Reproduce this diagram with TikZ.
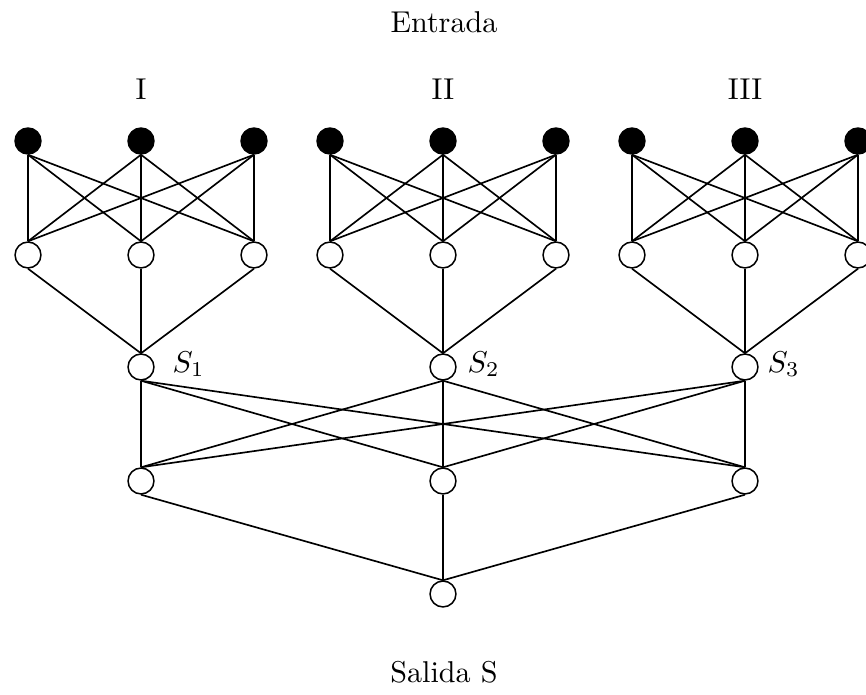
\documentclass[tikz,border=0pt]{standalone}
\begin{document}
\begin{tikzpicture}[x=0.332pt,y=-0.332pt,
  innode/.style={circle, draw=black, fill=black, minimum size=8.6pt, inner sep=0pt, line width=0.5pt},
  hidnode/.style={circle, draw=black, fill=white, minimum size=8.6pt, inner sep=0pt, line width=0.5pt},
  link/.style={line width=0.55pt},
  lbl/.style={anchor=base, inner sep=0pt}]
\useasboundingbox (0,0) rectangle (866,694);
\clip (0,0) rectangle (866,694);

% three input groups: input layer and first hidden layer
\foreach \g in {1,2,3} {
  \foreach \i in {1,2,3} {
    \pgfmathsetmacro{\xx}{141+302*(\g-1)+113*(\i-2)}
    \node[innode]  (in-\g-\i) at (\xx,141) {};
    \node[hidnode] (h-\g-\i)  at (\xx,255) {};
  }
  \pgfmathsetmacro{\xc}{141+302*(\g-1)}
  \node[hidnode] (s\g) at (\xc,367) {};
  \node[hidnode] (m\g) at (\xc,481) {};
}
\node[hidnode] (out) at (443,594) {};

% connections
\foreach \g in {1,2,3} {
  \foreach \i in {1,2,3} {
    \foreach \j in {1,2,3} {
      \draw[link] (in-\g-\i.south) -- (h-\g-\j.north);
    }
    \draw[link] (h-\g-\i.south) -- (s\g.north);
    \draw[link] (s\g.south) -- (m\i.north);
  }
  \draw[link] (m\g.south) -- (out.north);
}

% labels
\node[lbl] (tin) at (444,32.5) {Entrada};
\node[lbl] (g1) at (141,99) {I};
\node[lbl] (g2) at (443,99) {II};
\node[lbl] (g3) at (745,99) {III};
\node[lbl] (tout) at (444,682.5) {Salida S};
\node[anchor=base west, inner sep=0pt] (ls1) at (172,372) {$S_1$};
\node[anchor=base west, inner sep=0pt] (ls2) at (467,372) {$S_2$};
\node[anchor=base west, inner sep=0pt] (ls3) at (767,372) {$S_3$};
\end{tikzpicture}
\end{document}
